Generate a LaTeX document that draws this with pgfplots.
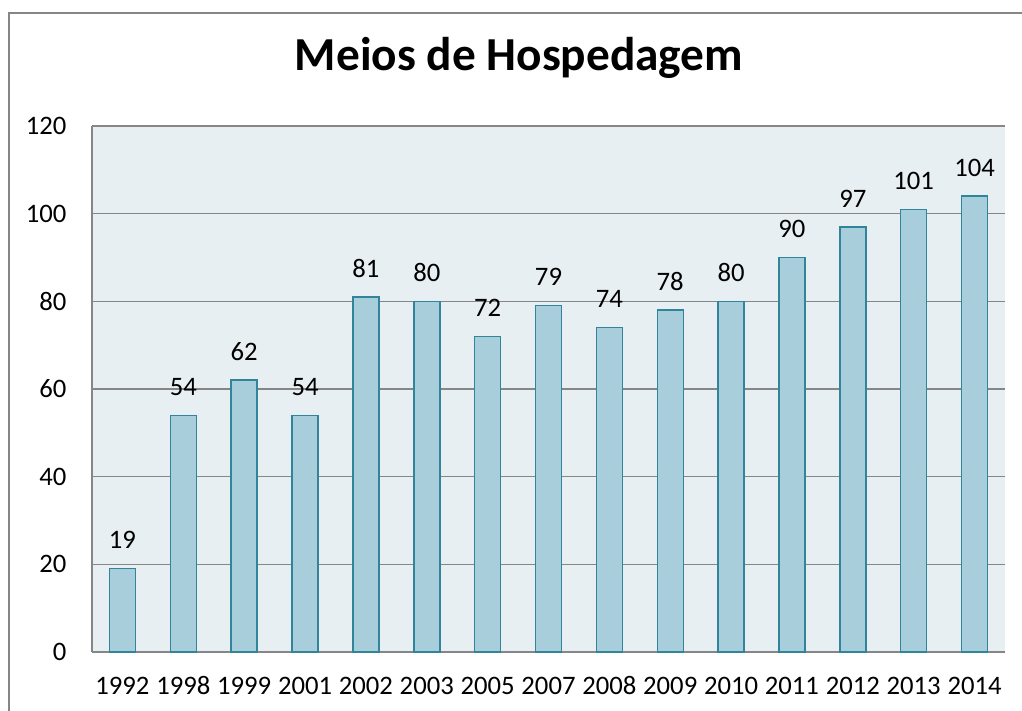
\documentclass[border=0pt]{standalone}
\usepackage{pgfplots}
\pgfplotsset{compat=1.18}
\usepackage{fontspec}
\setmainfont{Carlito}
\definecolor{barfill}{RGB}{168,206,220}
\definecolor{baredge}{RGB}{49,133,155}
\definecolor{plotbg}{RGB}{232,239,243}
\definecolor{gridgray}{RGB}{134,134,134}
\begin{document}
\begin{tikzpicture}[x=0.75pt,y=0.75pt]
\useasboundingbox (0,0) rectangle (1022,711);
\draw[gridgray, line width=1.5pt] (9,0) -- (9,698) -- (1022,698);
\begin{axis}[
  at={(69pt,44.25pt)}, anchor=south west,
  scale only axis,
  width=684.75pt, height=394.5pt,
  xmin=-0.5, xmax=14.5, ymin=0, ymax=120,
  ytick={0,20,...,120},
  xtick={0,...,14},
  xticklabels={1992,1998,1999,2001,2002,2003,2005,2007,2008,2009,2010,2011,2012,2013,2014},
  axis lines*=left,
  axis line style={gridgray, line width=1pt, -},
  axis background/.style={fill=plotbg},
  ymajorgrids,
  grid style={gridgray, line width=1pt},
  major tick length=0pt,
  tick style={draw=none},
  /pgf/number format/assume math mode=true,
  ticklabel style={font=\fontsize{20}{24}\selectfont},
  yticklabel style={anchor=east, inner sep=0pt, xshift=-19pt},
  xticklabel style={anchor=base, inner sep=0pt, yshift=-31.5pt},
  title={\bfseries Meios de Hospedagem},
  title style={font=\fontsize{35.5}{42}\selectfont, at={(0.4677,1)}, anchor=base, yshift=35.25pt, inner sep=0pt},
  ybar, bar width=19.5pt, bar shift=0pt,
  nodes near coords={\pgfmathprintnumber{\pgfplotspointmeta}},
  nodes near coords style={font=\fontsize{20}{24}\selectfont, anchor=south, inner sep=0pt, yshift=14.25pt, /pgf/number format/assume math mode=true},
  clip=false,
]
\addplot[fill=barfill, draw=baredge, line width=1.1pt] coordinates {
(0,19) (1,54) (2,62) (3,54) (4,81) (5,80) (6,72) (7,79) (8,74) (9,78) (10,80) (11,90) (12,97) (13,101) (14,104)
};
\end{axis}
\end{tikzpicture}
\end{document}
